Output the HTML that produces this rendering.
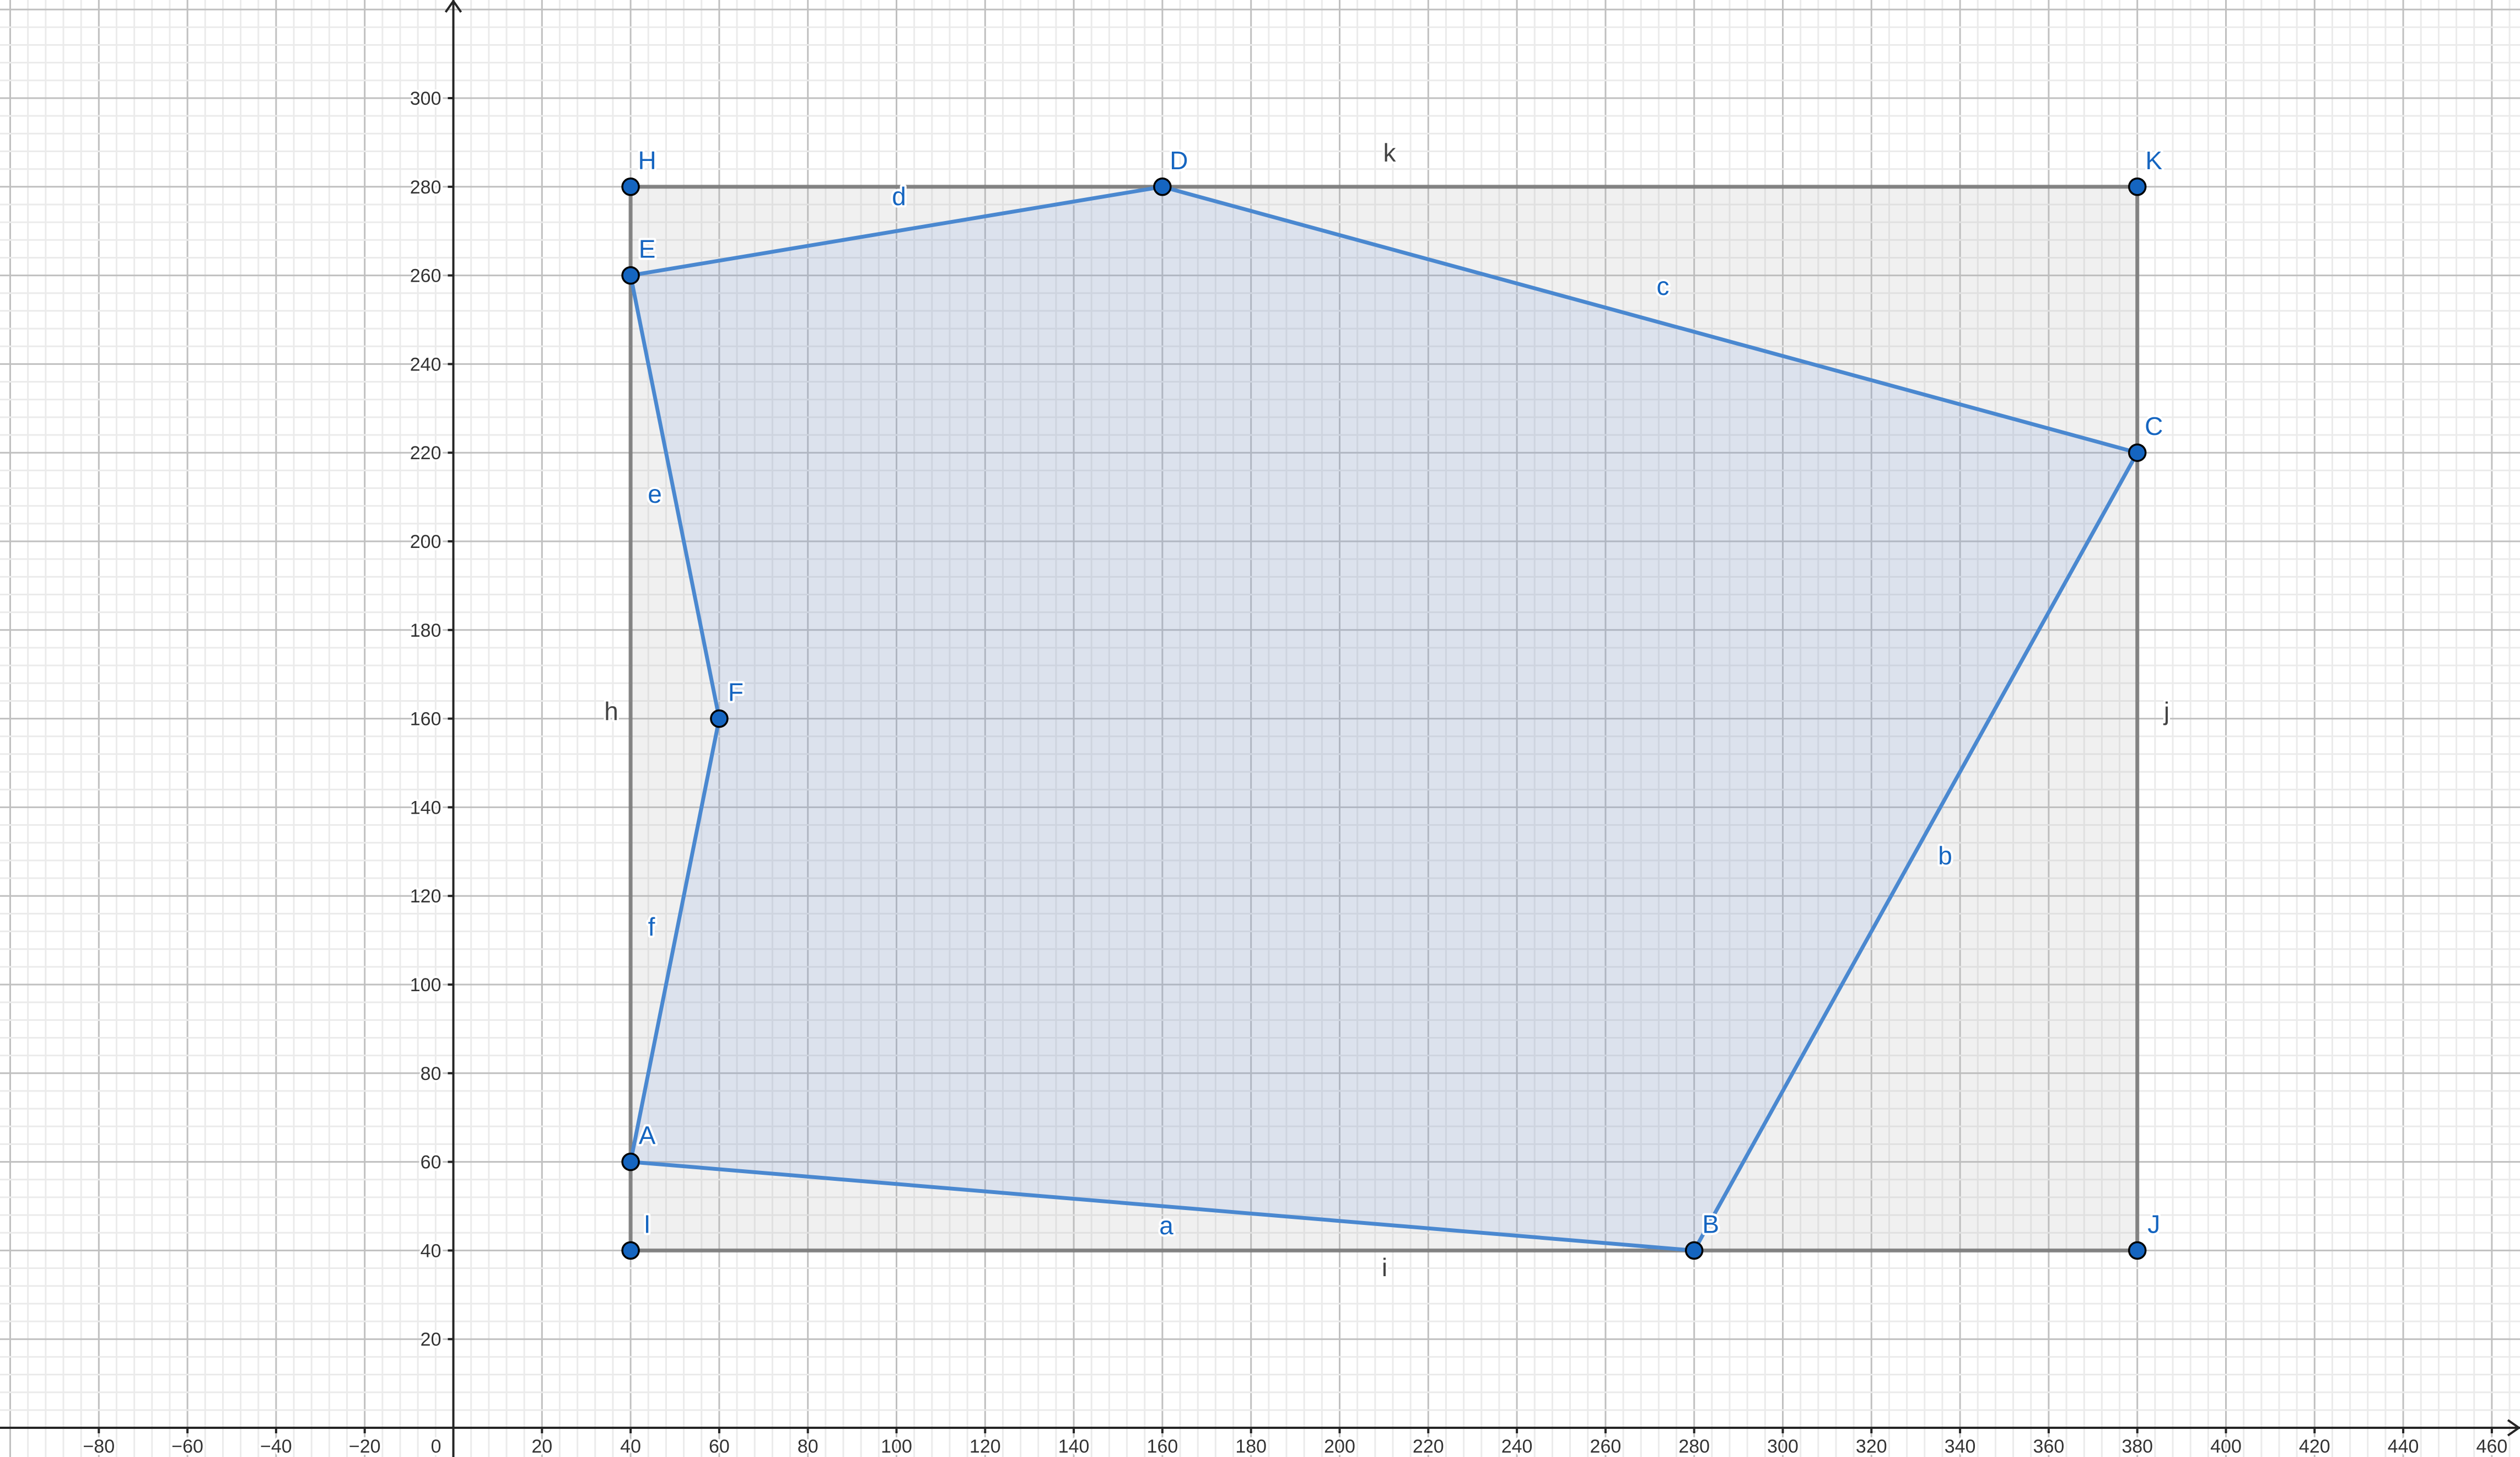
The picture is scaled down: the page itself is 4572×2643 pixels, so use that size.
<!DOCTYPE html>
<html><head><meta charset="utf-8"><style>
html,body{margin:0;padding:0;background:#fff;}
svg{display:block;font-family:"Liberation Sans",Arial,sans-serif;}
.lbl{paint-order:stroke;stroke:#fff;stroke-width:8px;stroke-linejoin:round;}
</style></head><body>
<svg id="c" width="4572" height="2643" viewBox="0 0 4572 2643" xmlns="http://www.w3.org/2000/svg"></svg>
<script>
const xTicks=[-80,-60,-40,-20,20,40,60,80,100,120,140,160,180,200,220,240,260,280,300,320,340,360,380,400,420,440,460];
const yTicks=[20,40,60,80,100,120,140,160,180,200,220,240,260,280,300];
const polyNames=["A","B","C","D","E","F"];
const polyX=[40,280,380,160,40,60];
const polyY=[60,40,220,280,260,160];
const rectNames=["I","J","K","H"];
const rectX=[40,380,380,40];
const rectY=[40,40,280,280];
const polySegNames=["a","b","c","d","e","f"];
const rectSegNames=["i","j","k","h"];

const X0=822.5,Y0=2590,U=8.04,W=4572,H=2643;
const sx=v=>X0+v*U, sy=v=>Y0-v*U;
const NS="http://www.w3.org/2000/svg";
const svg=document.getElementById('c');
function mk(tag,attrs,parent){const e=document.createElementNS(NS,tag);for(const k in attrs)e.setAttribute(k,attrs[k]);(parent||svg).appendChild(e);return e;}

// grid
const grid=mk('g',{});


for(let v=-104;v<=470;v+=4){const maj=v%20===0;mk('line',{x1:sx(v),x2:sx(v),y1:0,y2:H,stroke:maj?'#c0c0c0':'#ebebeb','stroke-width':maj?3:3},grid);}
for(let v=0;v<=324;v+=4){const maj=v%20===0;mk('line',{y1:sy(v),y2:sy(v),x1:0,x2:W,stroke:maj?'#c0c0c0':'#ebebeb','stroke-width':3},grid);}

// rectangle
const rect=mk('polygon',{points:rectX.map((x,i)=>sx(x)+','+sy(rectY[i])).join(' '),fill:'rgba(180,180,180,0.2)',stroke:'#7a7a7a','stroke-width':7,'stroke-opacity':0.9});


// polygon
const poly=mk('polygon',{points:polyX.map((x,i)=>sx(x)+','+sy(polyY[i])).join(' '),fill:'rgba(100,140,220,0.14)',stroke:'#4a88d0','stroke-width':7,'stroke-linejoin':'round'});



// axes
const ax=mk('g',{stroke:'#252525','stroke-width':4,fill:'none'});


mk('line',{x1:0,x2:W,y1:Y0,y2:Y0},ax);
mk('line',{x1:X0,x2:X0,y1:0,y2:H},ax);
mk('polyline',{points:`${W-22},${Y0-14} ${W-2},${Y0} ${W-22},${Y0+14}`},ax);
mk('polyline',{points:`${X0-14},22 ${X0},2 ${X0+14},22`},ax);
xTicks.forEach(v=>mk('line',{x1:sx(v),x2:sx(v),y1:Y0,y2:Y0+10},ax));
yTicks.forEach(v=>mk('line',{x1:X0-10,x2:X0,y1:sy(v),y2:sy(v)},ax));

// tick labels
xTicks.forEach(v=>{const t=mk('text',{x:sx(v),y:Y0+45,'text-anchor':'middle','font-size':34,fill:'#333',class:'lbl'});t.textContent=(v<0?'\u2212'+(-v):v);

});
yTicks.forEach(v=>{const t=mk('text',{x:X0-22,y:sy(v)+12,'text-anchor':'end','font-size':34,fill:'#333',class:'lbl'});t.textContent=v;

});
const z=mk('text',{x:X0-22,y:Y0+45,'text-anchor':'end','font-size':34,fill:'#333',class:'lbl'});z.textContent='0';



// segment labels
function segLabel(name,x,y,col){const t=mk('text',{x:x,y:y+16,'text-anchor':'middle','font-size':46,fill:col,class:'lbl'});t.textContent=name;

}
const segPos={a:[2116,2223],b:[3529,1552],c:[3017,519],d:[1631,356],e:[1188,896],f:[1182,1681],i:[2512,2299],j:[3931,1290],k:[2521,277],h:[1109,1290]};
polySegNames.forEach(n=>segLabel(n,segPos[n][0],segPos[n][1],'#1565c0'));
rectSegNames.forEach(n=>segLabel(n,segPos[n][0],segPos[n][1],'#444'));

// points
function point(name,x,y){const px=sx(x),py=sy(y);
const c=mk('circle',{cx:px,cy:py,r:15,fill:'#1565c0',stroke:'#000','stroke-width':3.5});


const t=mk('text',{x:px+30,y:py-32,'text-anchor':'middle','font-size':46,fill:'#1565c0',class:'lbl'});t.textContent=name;

}
rectNames.forEach((n,i)=>point(n,rectX[i],rectY[i]));
polyNames.forEach((n,i)=>point(n,polyX[i],polyY[i]));
</script>
</body></html>
